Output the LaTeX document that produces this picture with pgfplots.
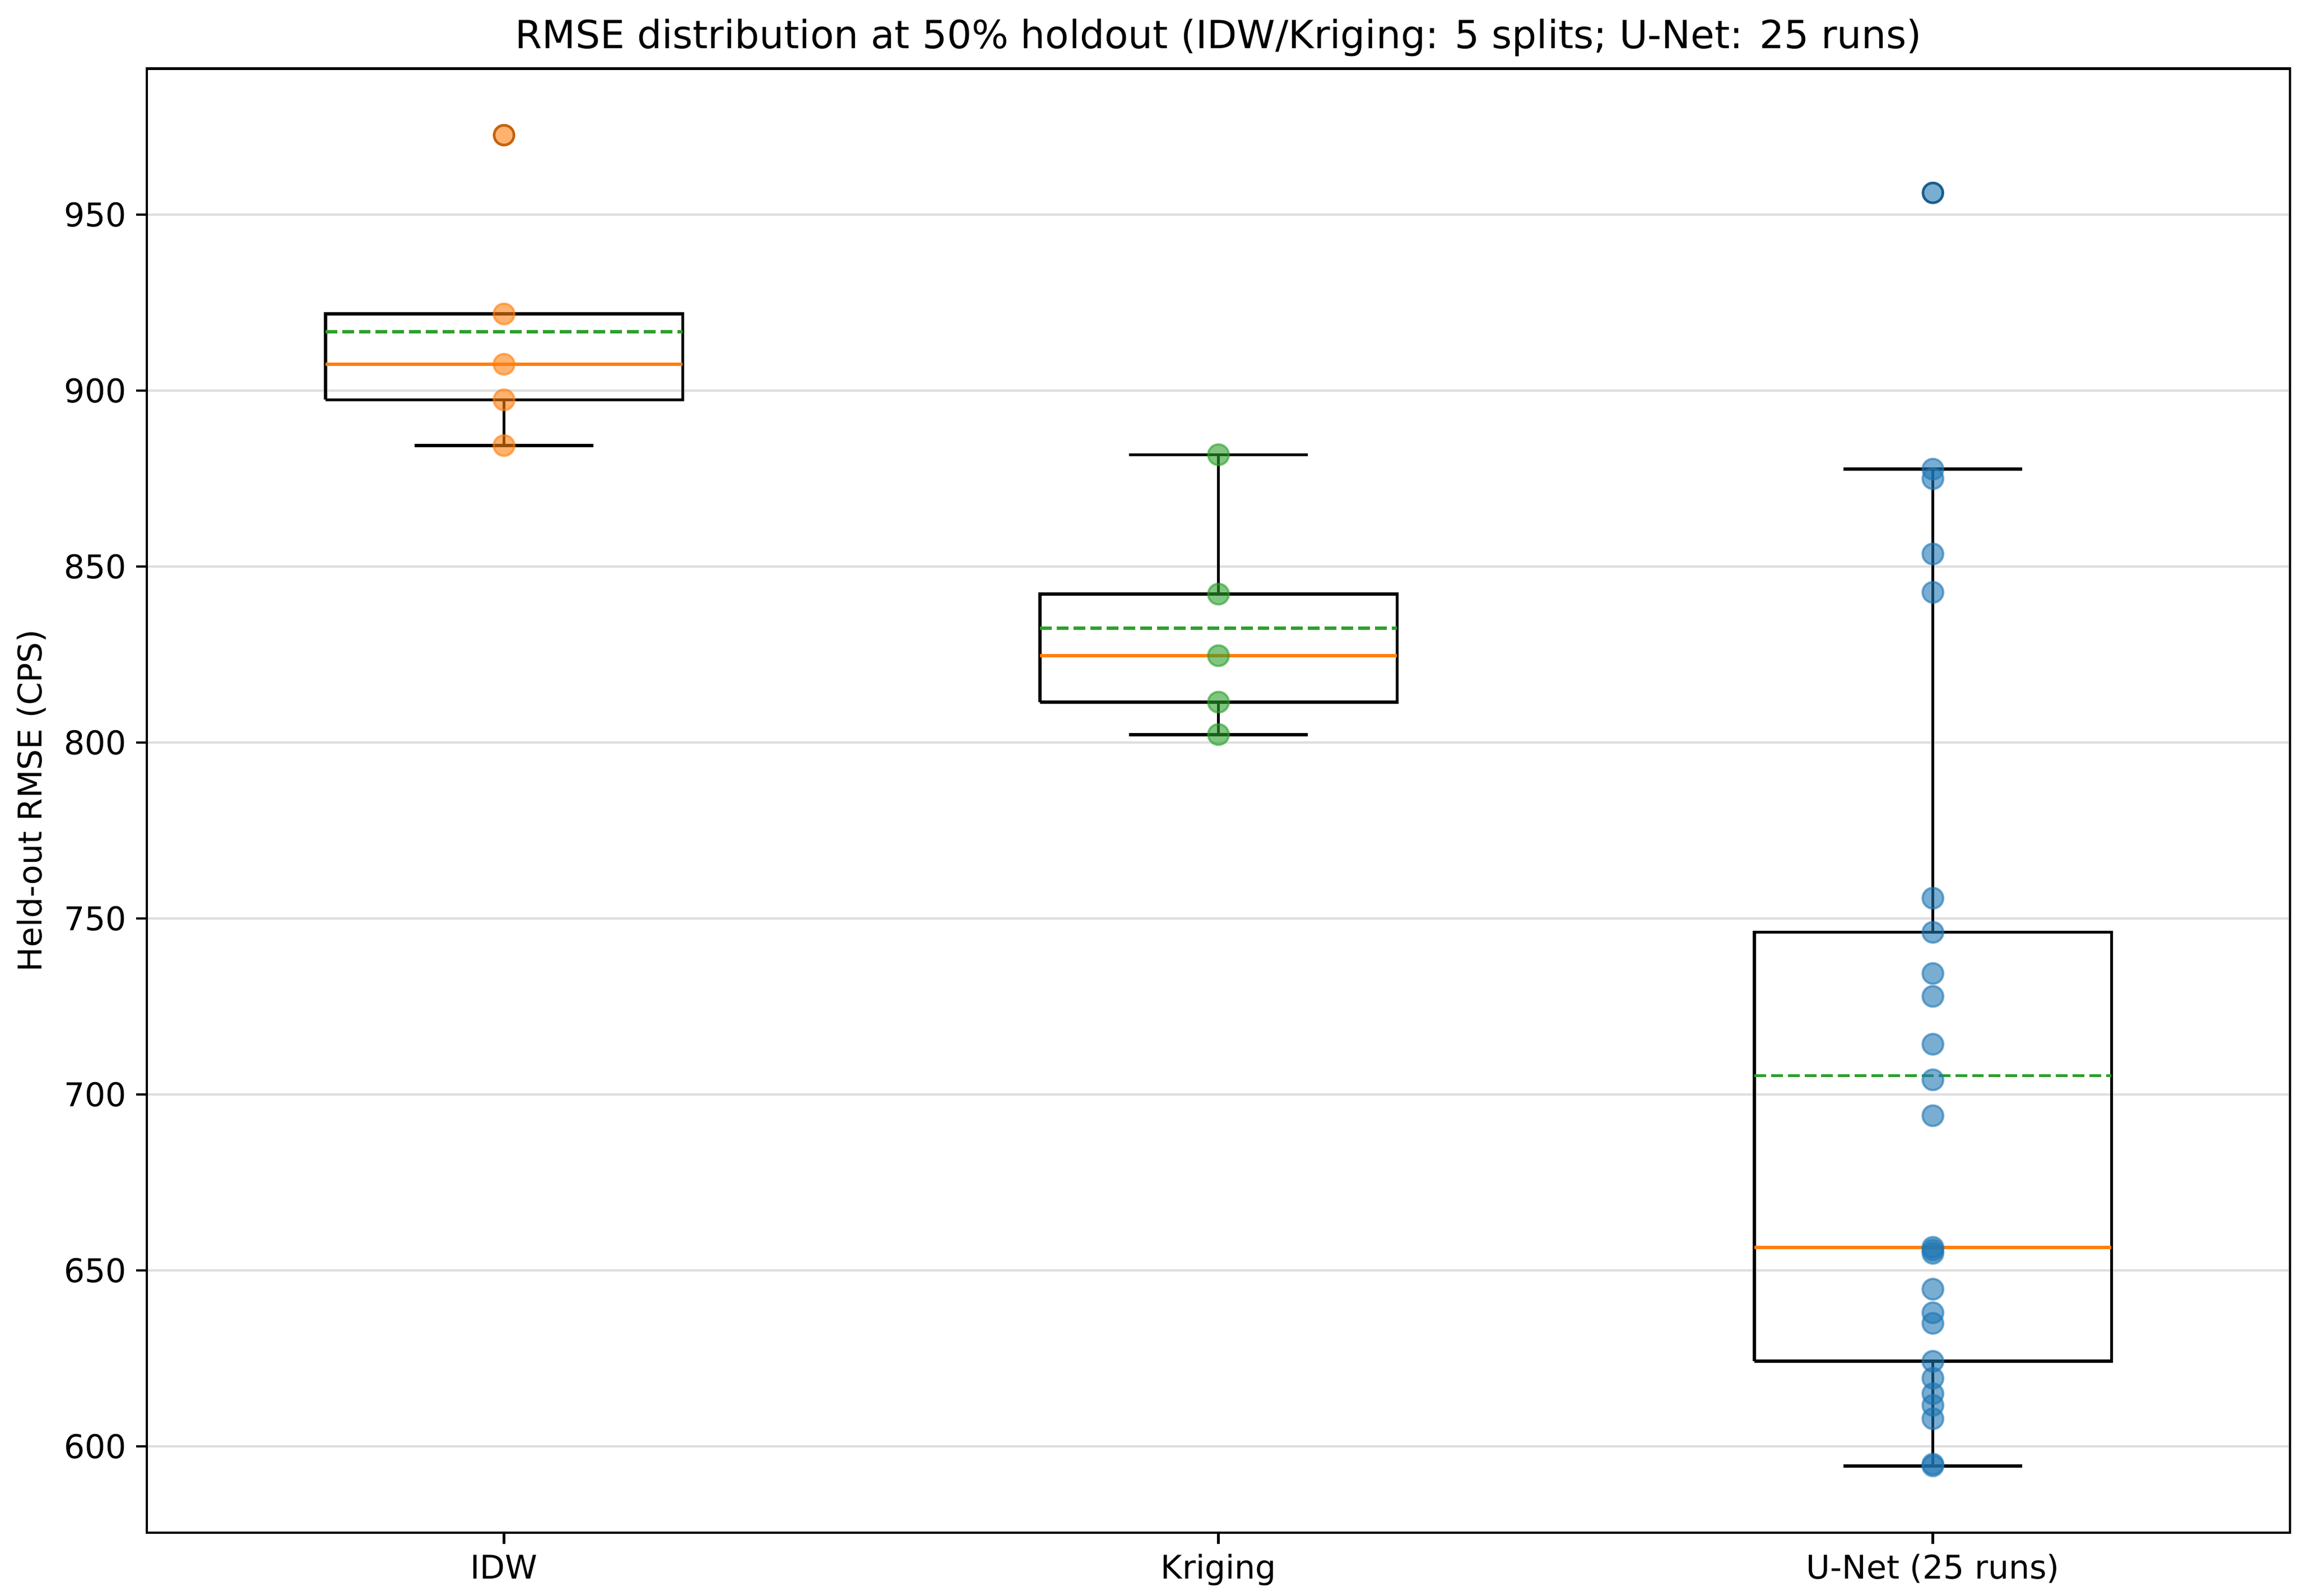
\documentclass[border=0pt]{standalone}
\usepackage{fontspec}
\setmainfont{DejaVu Sans}
\usepackage{pgfplots}
\pgfplotsset{compat=1.18}
\definecolor{tabblue}{HTML}{1F77B4}
\definecolor{taborange}{HTML}{FF7F0E}
\definecolor{tabgreen}{HTML}{2CA02C}
\pgfplotsset{
  boxln/.style={black, line width=1.15pt, solid, no marks},
  medln/.style={taborange, line width=1.15pt, solid, no marks},
  meanln/.style={tabgreen, line width=1.15pt, dash pattern=on 4.3pt off 1.85pt, no marks},
  pts/.style={only marks, mark=*, mark size=3.8pt,
    mark options={draw=#1, fill=#1, fill opacity=0.6, draw opacity=0.6, line width=0.8pt}},
}
\begin{document}
\begin{tikzpicture}
\begin{axis}[
  at={(0,0)}, anchor=south west,
  scale only axis,
  width=786.8pt, height=537.4pt,
  xmin=0.5, xmax=3.5, ymin=575.5, ymax=991.5,
  xtick={1,2,3},
  xticklabels={IDW, Kriging, U-Net (25 runs)},
  ytick={600,650,700,750,800,850,900,950},
  tick pos=left,
  tick align=outside,
  major tick length=4pt,
  tick style={black, line width=0.9pt},
  axis line style={black, line width=0.9pt},
  ymajorgrids,
  major grid style={black!13, line width=0.8pt},
  ticklabel style={font=\fontsize{12}{14}\selectfont},
  /pgf/number format/assume math mode=true,
  xticklabel style={anchor=base, yshift=-13pt},
  yticklabel style={anchor=east},
  title={RMSE distribution at 50\% holdout (IDW/Kriging: 5 splits; U-Net: 25 runs)},
  title style={at={(0.5,1)}, anchor=base, yshift=1.3pt, font=\fontsize{14.25}{17}\selectfont},
  ylabel={Held-out RMSE (CPS)},
  every axis y label/.style={at={(axis description cs:-0.0489,0.5)}, rotate=90, anchor=base, font=\fontsize{12}{14}\selectfont},
  clip=false,
]
% ---------- IDW (position 1) ----------
\addplot[boxln] coordinates {(0.75,897.4) (1.25,897.4) (1.25,921.8) (0.75,921.8) (0.75,897.4)};
\addplot[boxln] coordinates {(1,897.4) (1,884.4)};
\addplot[boxln] coordinates {(0.875,884.4) (1.125,884.4)};
\addplot[boxln] coordinates {(0.875,921.8) (1.125,921.8)};
\addplot[medln] coordinates {(0.75,907.5) (1.25,907.5)};
\addplot[meanln] coordinates {(0.75,916.74) (1.25,916.74)};
% ---------- Kriging (position 2) ----------
\addplot[boxln] coordinates {(1.75,811.5) (2.25,811.5) (2.25,842.2) (1.75,842.2) (1.75,811.5)};
\addplot[boxln] coordinates {(2,811.5) (2,802.3)};
\addplot[boxln] coordinates {(2,842.2) (2,881.8)};
\addplot[boxln] coordinates {(1.875,802.3) (2.125,802.3)};
\addplot[boxln] coordinates {(1.875,881.8) (2.125,881.8)};
\addplot[medln] coordinates {(1.75,824.7) (2.25,824.7)};
\addplot[meanln] coordinates {(1.75,832.5) (2.25,832.5)};
% ---------- U-Net (position 3) ----------
\addplot[boxln] coordinates {(2.75,624.2) (3.25,624.2) (3.25,746.1) (2.75,746.1) (2.75,624.2)};
\addplot[boxln] coordinates {(3,624.2) (3,594.5)};
\addplot[boxln] coordinates {(3,746.1) (3,877.7)};
\addplot[boxln] coordinates {(2.875,594.5) (3.125,594.5)};
\addplot[boxln] coordinates {(2.875,877.7) (3.125,877.7)};
\addplot[medln] coordinates {(2.75,656.6) (3.25,656.6)};
\addplot[meanln] coordinates {(2.75,705.4) (3.25,705.4)};
% fliers
\addplot[only marks, mark=o, mark size=3.6pt, mark options={draw=black, line width=0.8pt}]
  coordinates {(1,972.6) (3,956.2)};
% points
\addplot[pts=taborange] coordinates {(1,972.6) (1,921.8) (1,907.5) (1,897.4) (1,884.4)};
\addplot[pts=tabgreen] coordinates {(2,881.8) (2,842.2) (2,824.7) (2,811.5) (2,802.3)};
\addplot[pts=tabblue] coordinates {
  (3,956.2) (3,877.7) (3,875.0) (3,853.6) (3,842.7)
  (3,755.8) (3,746.1) (3,734.4) (3,727.9) (3,714.3)
  (3,704.2) (3,694.0) (3,656.6) (3,655.8) (3,654.9)
  (3,644.7) (3,638.0) (3,635.0) (3,624.2) (3,619.4)
  (3,615.0) (3,611.7) (3,607.9) (3,595.0) (3,594.5)};
\end{axis}
\pgfresetboundingbox
\path[use as bounding box] (-53.9pt,-23.2pt) rectangle (795.2pt,562.6pt);
\end{tikzpicture}
\end{document}
